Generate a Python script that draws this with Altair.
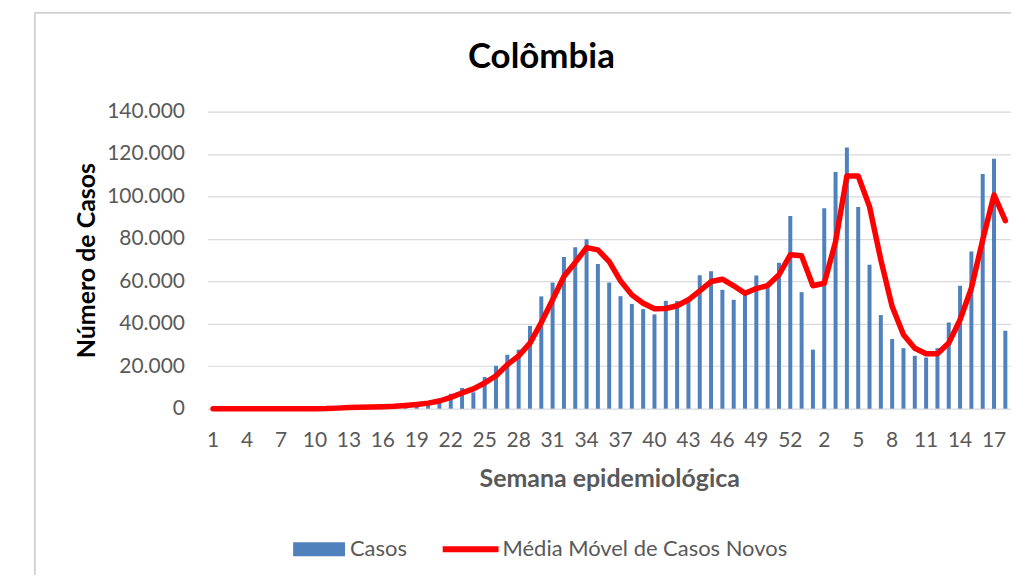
import altair as alt
import pandas as pd

# Week labels: 2020 weeks 1-53, then 2021 weeks 1-18
WEEK_LABELS = [
    "1", "2", "3", "4", "5", "6", "7", "8", "9", "10", "11", "12", "13", "14", "15", "16", "17", "18",
    "19", "20", "21", "22", "23", "24", "25", "26", "27", "28", "29", "30", "31", "32", "33", "34", "35",
    "36", "37", "38", "39", "40", "41", "42", "43", "44", "45", "46", "47", "48", "49", "50", "51", "52", "53",
    "1", "2", "3", "4", "5", "6", "7", "8", "9", "10", "11", "12", "13", "14", "15", "16", "17", "18",
]

# Weekly new cases (bars)
CASOS = [
    0, 0, 0, 0, 0, 0, 0, 0, 0, 10, 150, 600, 800, 750, 900, 1100, 1400, 1900,
    2500, 3300, 4800, 7000, 9700, 7700, 14900, 20200, 25400, 27800, 39000, 52900, 59400, 71500, 76100, 79800, 68200,
    59400, 53000, 49300, 46900, 44400, 50800, 50700, 50200, 62900, 64800, 56000, 51300, 54400, 62700, 56800, 68700, 90800, 54900,
    27800, 94400, 111500, 123100, 95000, 67800, 44100, 32800, 28500, 24900, 24100, 28500, 40600, 57900, 74000, 110600, 117800, 36700,
]

# Moving average of new cases (line)
MEDIA = [
    0, 0, 0, 0, 0, 0, 0, 0, 0, 5, 50, 250, 500, 700, 800, 900, 1100, 1500,
    2000, 2600, 3600, 5300, 7400, 9300, 12100, 15500, 20700, 24900, 30900, 40600, 51300, 62300, 68900, 75900, 74800,
    69300, 60200, 53600, 49700, 47100, 47200, 48500, 51300, 55500, 59900, 61000, 57900, 54400, 56600, 58000, 63100, 72500, 72000,
    57900, 59100, 78700, 109600, 109600, 95200, 70100, 48100, 34800, 28500, 25900, 25900, 30900, 41900, 56800, 79500, 100700, 88600,
]

SERIES = ["Casos", "Média Móvel de Casos Novos"]
Y_TICKS = [0, 20000, 40000, 60000, 80000, 100000, 120000, 140000]

TITLE = "Colômbia"
Y_TITLE = "Número de Casos"
X_TITLE = "Semana epidemiológica"

BLUE = "#4f81bd"
RED = "#ff0000"
GRAY_TXT = "#595959"
FONT = "Lato"

df = pd.DataFrame({
    "idx": list(range(len(WEEK_LABELS))),
    "semana": WEEK_LABELS,
    "casos": CASOS,
    "media": MEDIA,
    "s1": SERIES[0],
    "s2": SERIES[1],
})

label_array = "[" + ",".join("'" + w + "'" for w in WEEK_LABELS) + "]"

x_enc = alt.X(
    "idx:O",
    scale=alt.Scale(paddingInner=0, paddingOuter=0),
    axis=alt.Axis(
        values=list(range(0, len(WEEK_LABELS), 3)),
        labelExpr=label_array + "[datum.value]",
        labelAngle=0,
        labelFont=FONT,
        labelFontSize=21,
        labelColor=GRAY_TXT,
        labelPadding=21,
        ticks=False,
        tickSize=0,
        domain=False,
        grid=False,
        title=X_TITLE,
        titleFont=FONT,
        titleFontSize=25,
        titleFontWeight="bold",
        titleColor=GRAY_TXT,
        titleX=403,
        titleY=78,
        titleBaseline="alphabetic",
    ),
)

y_axis = alt.Axis(
    values=Y_TICKS,
    labelExpr="replace(format(datum.value, ','), ',', '.')",
    labelFont=FONT,
    labelFontSize=21,
    labelColor=GRAY_TXT,
    labelPadding=23,
    ticks=False,
    tickSize=0,
    domain=False,
    grid=True,
    gridColor="#d9d9d9",
    gridWidth=1.2,
    title=Y_TITLE,
    titleFont=FONT,
    titleFontSize=25,
    titleFontWeight="bold",
    titleColor="#000000",
    titleX=-121,
    titleY=149,
    titleBaseline="middle",
)
y_scale = alt.Scale(domain=[0, 140000], nice=False)

base = alt.Chart(df)

bars = base.mark_bar(size=4).encode(
    x=x_enc,
    y=alt.Y("casos:Q", scale=y_scale, axis=y_axis),
    fill=alt.Fill(
        "s1:N",
        title=None,
        scale=alt.Scale(domain=[SERIES[0]], range=[BLUE]),
        legend=alt.Legend(
            orient="none",
            legendX=86,
            legendY=413,
            padding=0,
            symbolType="M-1,-0.27H1V0.27H-1Z",
            symbolSize=2704,
            symbolStrokeWidth=0,
            labelFont=FONT,
            labelFontSize=22,
            labelColor=GRAY_TXT,
            labelOffset=5,
            labelLimit=400,
        ),
    ),
)

line = base.mark_line(strokeWidth=5.5, strokeJoin="round", strokeCap="round").encode(
    x=x_enc,
    y=alt.Y("media:Q", scale=y_scale, axis=y_axis),
    stroke=alt.Stroke(
        "s2:N",
        title=None,
        scale=alt.Scale(domain=[SERIES[1]], range=[RED]),
        legend=alt.Legend(
            orient="none",
            legendX=233,
            legendY=408,
            padding=0,
            symbolType="stroke",
            symbolSize=3136,
            symbolStrokeWidth=6,
            labelFont=FONT,
            labelFontSize=22,
            labelColor=GRAY_TXT,
            labelOffset=1,
            labelLimit=500,
        ),
    ),
)

frame_df = pd.DataFrame({"k": [0]})
frame_left = alt.Chart(frame_df).mark_rule(color="#bfbfbf", strokeWidth=1.3).encode(
    x=alt.value(-173), y=alt.value(-99), y2=alt.value(480)
)
frame_top = alt.Chart(frame_df).mark_rule(color="#bfbfbf", strokeWidth=1.3).encode(
    x=alt.value(-173), x2=alt.value(811), y=alt.value(-99)
)

chart = alt.layer(frame_left, frame_top, bars, line).resolve_scale(
    fill="independent", stroke="independent"
).properties(
    width=806,
    height=298,
    autosize=alt.AutoSizeParams(type="none"),
    padding={"left": 200, "top": 103, "right": 0, "bottom": 166},
    title=alt.TitleParams(
        TITLE,
        font=FONT,
        fontSize=35,
        fontWeight="bold",
        color="#000000",
        anchor="middle",
        frame="group",
        baseline="alphabetic",
        offset=0,
        dx=-68,
        dy=90.6,
    ),
).configure_view(stroke=None)

chart.save("out.html", embed_options={"renderer": "svg", "actions": False})
